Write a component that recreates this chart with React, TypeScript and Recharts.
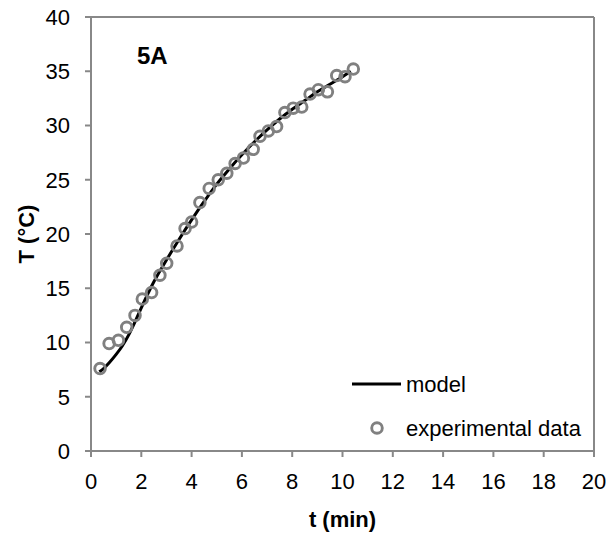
import React from 'react';
import {
  ComposedChart,
  Line,
  Scatter,
  XAxis,
  YAxis,
  ReferenceLine,
  Label
} from 'recharts';

// experimental points (t in min, T in °C)
const expTime = [
  0.36, 0.72, 1.09, 1.42, 1.75, 2.04, 2.41, 2.74, 3.01, 3.42, 3.74, 4.0, 4.33, 4.7,
  5.06, 5.4, 5.73, 6.06, 6.45, 6.72, 7.05, 7.38, 7.71, 8.04, 8.38, 8.71, 9.04, 9.4,
  9.77, 10.1, 10.43
];
const expTemp = [
  7.6, 9.9, 10.2, 11.4, 12.5, 14.0, 14.6, 16.2, 17.3, 18.9, 20.5, 21.1, 22.9, 24.2,
  25.0, 25.6, 26.5, 27.0, 27.8, 29.0, 29.5, 29.9, 31.2, 31.6, 31.7, 32.9, 33.3, 33.1,
  34.6, 34.5, 35.2
];

// model curve
const modelTime = [
  0.33, 0.5, 0.75, 1.0, 1.25, 1.5, 1.75, 2.0, 2.5, 3.0, 3.5, 4.0, 4.5, 5.0, 5.5, 6.0,
  6.5, 7.0, 7.5, 8.0, 8.5, 9.0, 9.5, 10.0, 10.33
];
const modelTemp = [
  7.3, 7.6, 8.2, 8.9, 9.7, 10.7, 11.9, 13.2, 15.6, 17.6, 19.5, 21.3, 23.0, 24.6, 26.0,
  27.3, 28.5, 29.6, 30.6, 31.5, 32.3, 33.1, 33.8, 34.5, 35.0
];

const xTicks = [0, 2, 4, 6, 8, 10, 12, 14, 16, 18, 20];
const yTicks = [0, 5, 10, 15, 20, 25, 30, 35, 40];

const expData = expTime.map((t, i) => ({ t, T: expTemp[i] }));
const modelData = modelTime.map((t, i) => ({ t, T: modelTemp[i] }));

const FONT = 'Liberation Sans, Arial, sans-serif';
const AXIS = '#888888';
const MARKER = '#808080';

const Ring = (props: any) => (
  <circle cx={props.cx} cy={props.cy} r={5.3} fill="none" stroke={MARKER} strokeWidth={2.9} />
);

export default function App() {
  return (
    <div style={{ position: 'absolute', left: 0, top: 0, width: 611, height: 535, fontFamily: FONT }}>
      <ComposedChart
        width={611}
        height={535}
        margin={{ top: 17, right: 17, bottom: 0, left: 0 }}
        style={{ fontFamily: FONT }}
      >
        <XAxis
          dataKey="t"
          type="number"
          domain={[0, 20]}
          ticks={xTicks}
          height={84}
          tickSize={6}
          tickMargin={16}
          stroke={AXIS}
          strokeWidth={2}
          tick={{ fill: '#000', fontSize: 22 }}
          allowDataOverflow
        >
          <Label
            value="t (min)"
            position="insideBottom"
            offset={8}
            style={{ fontWeight: 'bold', fontSize: 22, fill: '#000' }}
          />
        </XAxis>
        <YAxis
          dataKey="T"
          type="number"
          domain={[0, 40]}
          ticks={yTicks}
          width={91}
          tickSize={6}
          tickMargin={15}
          stroke={AXIS}
          strokeWidth={2}
          tick={{ fill: '#000', fontSize: 22 }}
          allowDataOverflow
        >
          <Label
            value="T (°C)"
            angle={-90}
            position="insideLeft"
            offset={26}
            style={{ fontWeight: 'bold', fontSize: 22, fill: '#000', textAnchor: 'middle' }}
          />
        </YAxis>
        <ReferenceLine y={40} stroke={AXIS} strokeWidth={2} />
        <ReferenceLine x={20} stroke={AXIS} strokeWidth={2} />
        <Line
          data={modelData}
          dataKey="T"
          type="monotone"
          stroke="#000"
          strokeWidth={3}
          dot={false}
          isAnimationActive={false}
        />
        <Scatter data={expData} dataKey="T" shape={Ring} isAnimationActive={false} />
      </ComposedChart>

      <div style={{ position: 'absolute', left: 137, top: 42, fontSize: 24, fontWeight: 'bold', color: '#000' }}>
        5A
      </div>

      <svg
        width={270}
        height={80}
        style={{ position: 'absolute', left: 340, top: 365 }}
        fontFamily={FONT}
        fontSize={22}
      >
        <line x1={12} y1={19} x2={61} y2={19} stroke="#000" strokeWidth={3} />
        <text x={66} y={19} dominantBaseline="central" fill="#000">model</text>
        <circle cx={37} cy={63} r={5.3} fill="none" stroke={MARKER} strokeWidth={2.9} />
        <text x={66} y={63} dominantBaseline="central" fill="#000">experimental data</text>
      </svg>
    </div>
  );
}
